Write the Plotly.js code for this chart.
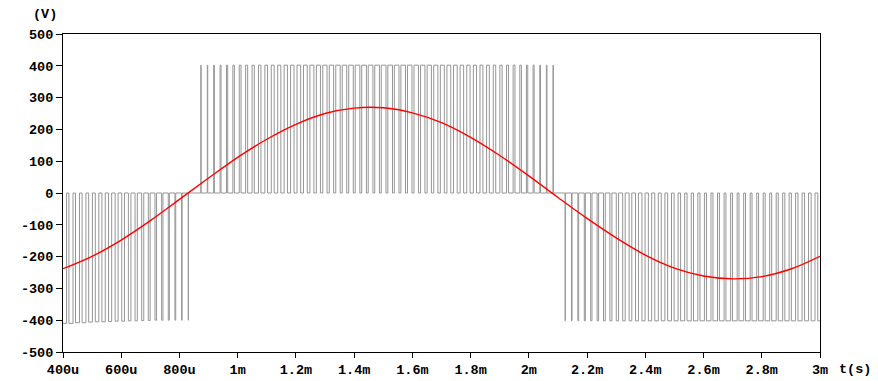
<!DOCTYPE html>
<html>
<head>
<meta charset="utf-8">
<script src="https://cdn.plot.ly/plotly-3.0.1.min.js"></script>
<style>
html,body{margin:0;padding:0;background:#fff;}
#chart{width:878px;height:381px;}
</style>
</head>
<body>
<div id="chart"></div>
<script>
// ---- data (time in ms, voltage in V) ----
// reference sine (red)
const sineT = [0.4,0.5,0.6,0.7,0.8,0.9,1.0,1.1,1.2,1.3,1.4,1.5,1.6,1.7,1.8,1.9,2.0,2.1,2.2,2.3,2.4,2.5,2.6,2.7,2.8,2.9,3.0];
const sineV = [-238,-199,-148,-87,-20,47,112,169,216,250,267,268,252,221,175,118,54,-14,-80,-141,-195,-236,-261,-270,-263,-239,-199];

// PWM output (grey): carrier period and three pulse trains
const carrierPeriod = 0.0224; // ms
const seg1Start = 0.405;   // first pulse centre, negative train
const seg1Duty = [.65,.63,.61,.59,.57,.54,.51,.48,.45,.42,.39,.35,.32,.28,.24,.20,.16,.12,.08,.05];
const seg1Level = [-410,-410,-408,-408,-406,-405,-405,-404,-403,-403,-402,-402,-401,-401,-400,-400,-400,-400,-400,-400];
const seg2Start = 0.874;   // positive train
const seg2Duty = [.05,.07,.11,.15,.19,.23,.27,.31,.34,.38,.41,.45,.48,.51,.53,.56,.58,.61,.63,.65,.66,.68,.69,.70,.71,.72,.72,.72,.72,.72,.71,.70,.69,.68,.67,.65,.63,.61,.59,.56,.54,.51,.48,.45,.42,.38,.35,.31,.28,.24,.20,.16,.12,.08,.05];
const seg2Level = 402;
const seg3Start = 2.125;   // negative train
const seg3Duty = [.05,.08,.12,.16,.20,.23,.27,.31,.35,.38,.41,.45,.48,.51,.54,.56,.59,.61,.63,.65,.66,.68,.69,.70,.71,.72,.72,.72,.72,.72,.71,.70,.69,.68,.66,.65,.63,.61,.59,.56];
const seg3Level = -402;

// tick labels
const xTickVals = [0.4,0.6,0.8,1.0,1.2,1.4,1.6,1.8,2.0,2.2,2.4,2.6,2.8,3.0];
const xTickText = ["400u","600u","800u","1m","1.2m","1.4m","1.6m","1.8m","2m","2.2m","2.4m","2.6m","2.8m","3m"];
const yTickVals = [500,400,300,200,100,0,-100,-200,-300,-400,-500];
const yTickText = ["500","400","300","200","100","0","-100","-200","-300","-400","-500"];

// ---- build pwm step trace ----
const px = [], py = [];
px.push(0.39); py.push(0);
function addTrain(start, duties, level){
  duties.forEach((d,k)=>{
    const c = start + k*carrierPeriod;
    const w = d*carrierPeriod;
    const L = Array.isArray(level) ? level[k] : level;
    px.push(c-w/2, c-w/2, c+w/2, c+w/2);
    py.push(0, L, L, 0);
  });
}
addTrain(seg1Start, seg1Duty, seg1Level);
addTrain(seg2Start, seg2Duty, seg2Level);
addTrain(seg3Start, seg3Duty, seg3Level);
px.push(3.01); py.push(0);

const font = {family:"Liberation Mono, DejaVu Sans Mono, monospace", size:13.5, color:"#000", weight:"bold"};

const traces = [
  {x:px, y:py, type:"scatter", mode:"lines", line:{color:"rgb(150,150,150)", width:1}, hoverinfo:"skip"},
  {x:sineT, y:sineV, type:"scatter", mode:"lines", line:{color:"#ff0000", width:1.4, shape:"spline", smoothing:1}, hoverinfo:"skip"}
];

const layout = {
  width:878, height:381,
  margin:{l:63, r:58, t:34, b:29},
  paper_bgcolor:"#fff", plot_bgcolor:"#fff",
  showlegend:false,
  font:font,
  xaxis:{
    range:[0.4,3.0], tickvals:xTickVals, ticktext:xTickText,
    ticks:"outside", ticklen:5, tickcolor:"#000", tickwidth:1,
    showline:true, linecolor:"#000", linewidth:1, mirror:true,
    showgrid:false, zeroline:false, tickfont:font
  },
  yaxis:{
    range:[-500,500], tickvals:yTickVals, ticktext:yTickText,
    ticks:"outside", ticklen:6, tickcolor:"#000", tickwidth:1,
    showline:true, linecolor:"#000", linewidth:1, mirror:true,
    showgrid:false, zeroline:false, tickfont:font
  },
  annotations:[
    {text:"(V)", xref:"paper", yref:"paper", x:-0.024, y:1.0, yshift:20, xanchor:"center", yanchor:"middle", showarrow:false, font:font},
    {text:"t(s)", xref:"paper", yref:"paper", x:1.0, y:0, xshift:35, yshift:-17, xanchor:"center", yanchor:"middle", showarrow:false, font:font}
  ]
};

Plotly.newPlot("chart", traces, layout, {displayModeBar:false, staticPlot:true});
</script>
</body>
</html>
